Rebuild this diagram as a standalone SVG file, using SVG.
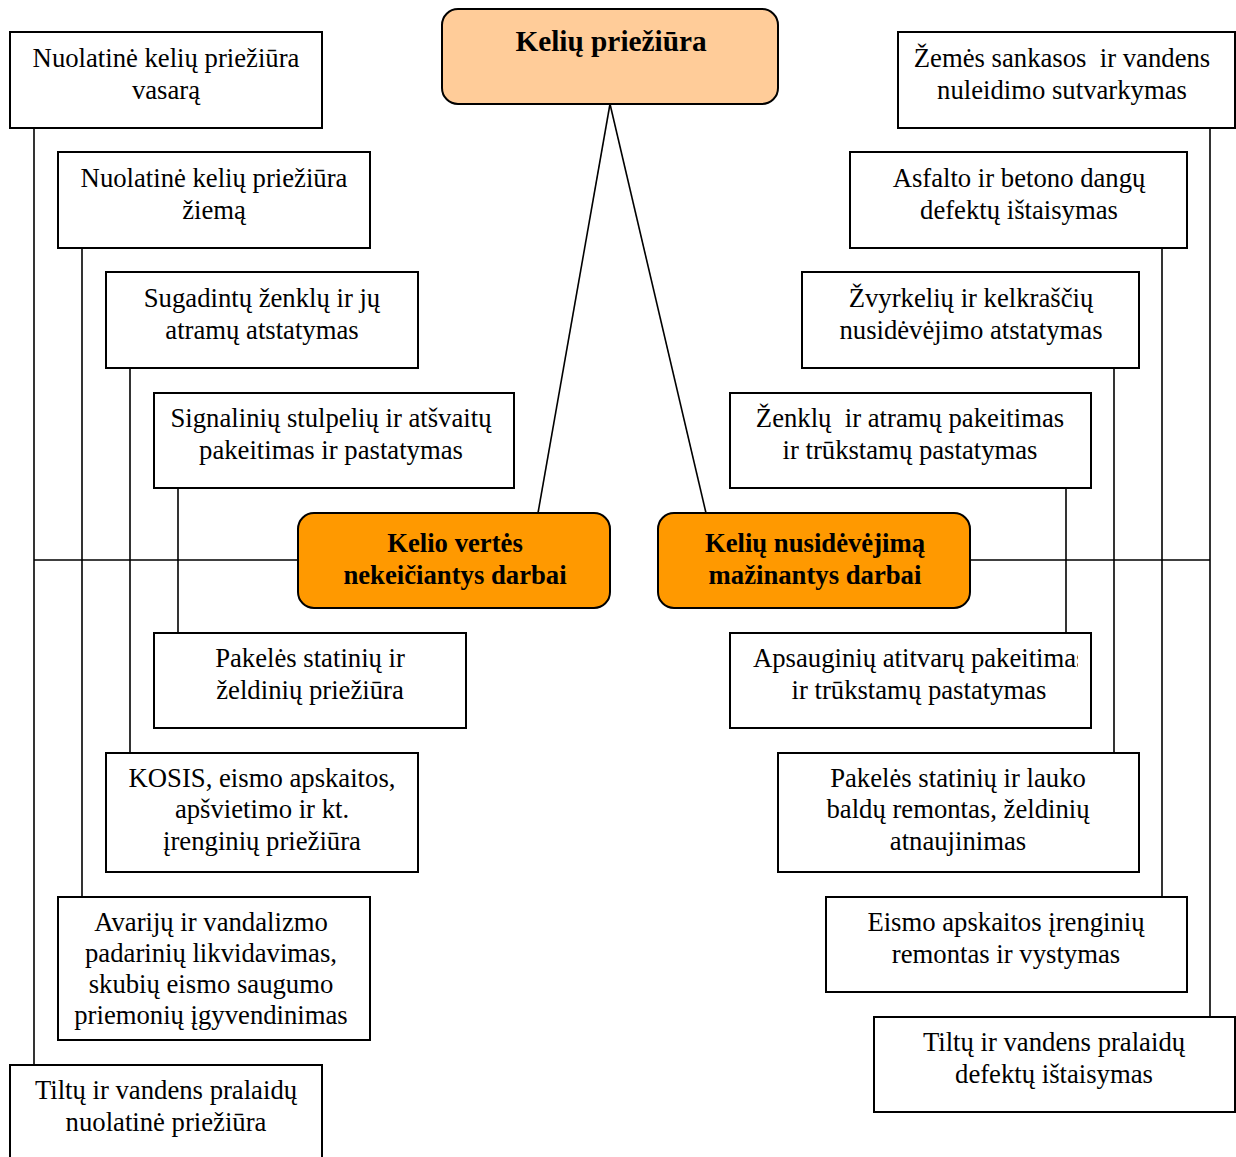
<svg xmlns="http://www.w3.org/2000/svg" width="1236" height="1157" viewBox="0 0 1236 1157">
<style>
.box{fill:#fff;stroke:#000;stroke-width:2}
.root{fill:#FFCC99;stroke:#000;stroke-width:2}
.cat{fill:#FF9900;stroke:#000;stroke-width:2}
.t{font-size:26.7px;fill:#000;text-anchor:middle}
.b{font-size:26.7px;font-weight:bold;fill:#000;text-anchor:middle}
.c{stroke:#000;stroke-width:1.6;fill:none}
</style>
<defs>
<clipPath id="clipA"><rect x="731" y="634" width="347" height="93"/></clipPath>
</defs>
<rect width="1236" height="1157" fill="#fff"/>
<g id="connectors">
<line class="c" x1="34" y1="128" x2="34" y2="1065"/>
<line class="c" x1="82" y1="248" x2="82" y2="897"/>
<line class="c" x1="130" y1="368" x2="130" y2="753"/>
<line class="c" x1="178" y1="488" x2="178" y2="633"/>
<line class="c" x1="34" y1="560" x2="298" y2="560"/>
<line class="c" x1="1210" y1="128" x2="1210" y2="1017"/>
<line class="c" x1="1162" y1="248" x2="1162" y2="897"/>
<line class="c" x1="1114" y1="368" x2="1114" y2="753"/>
<line class="c" x1="1066" y1="488" x2="1066" y2="633"/>
<line class="c" x1="970" y1="560" x2="1210" y2="560"/>
<line class="c" x1="610" y1="104" x2="538" y2="513"/>
<line class="c" x1="610" y1="104" x2="706" y2="513"/>
</g>
<g font-family="Liberation Serif, DejaVu Serif, Times New Roman, serif">
<g id="root">
<rect class="root" x="442" y="9" width="336" height="95" rx="16"/>
<text class="b" x="611" y="51" style="font-size:29.3px">Kelių priežiūra</text>
</g>
<g id="catLeft">
<rect class="cat" x="298" y="513" width="312" height="95" rx="16"/>
<text class="b" x="455" y="552">Kelio vertės</text>
<text class="b" x="455" y="584">nekeičiantys darbai</text>
</g>
<g id="catRight">
<rect class="cat" x="658" y="513" width="312" height="95" rx="16"/>
<text class="b" x="815" y="552">Kelių nusidėvėjimą</text>
<text class="b" x="815" y="584">mažinantys darbai</text>
</g>
<g id="L1">
<rect class="box" x="10" y="32" width="312" height="96"/>
<text class="t" x="166" y="67">Nuolatinė kelių priežiūra</text>
<text class="t" x="166" y="99">vasarą</text>
</g>
<g id="L2">
<rect class="box" x="58" y="152" width="312" height="96"/>
<text class="t" x="214" y="187">Nuolatinė kelių priežiūra</text>
<text class="t" x="214" y="219">žiemą</text>
</g>
<g id="L3">
<rect class="box" x="106" y="272" width="312" height="96"/>
<text class="t" x="262" y="307">Sugadintų ženklų ir jų</text>
<text class="t" x="262" y="339">atramų atstatymas</text>
</g>
<g id="L4">
<rect class="box" x="154" y="393" width="360" height="95"/>
<text class="t" x="331" y="427">Signalinių stulpelių ir atšvaitų</text>
<text class="t" x="331" y="459">pakeitimas ir pastatymas</text>
</g>
<g id="L5">
<rect class="box" x="154" y="633" width="312" height="95"/>
<text class="t" x="310" y="667">Pakelės statinių ir</text>
<text class="t" x="310" y="699">želdinių priežiūra</text>
</g>
<g id="L6">
<rect class="box" x="106" y="753" width="312" height="119"/>
<text class="t" x="262" y="787">KOSIS, eismo apskaitos,</text>
<text class="t" x="262" y="818">apšvietimo ir kt.</text>
<text class="t" x="262" y="850">įrenginių priežiūra</text>
</g>
<g id="L7">
<rect class="box" x="58" y="897" width="312" height="143"/>
<text class="t" x="211" y="931">Avarijų ir vandalizmo</text>
<text class="t" x="211" y="962">padarinių likvidavimas,</text>
<text class="t" x="211" y="993">skubių eismo saugumo</text>
<text class="t" x="211" y="1024">priemonių įgyvendinimas</text>
</g>
<g id="L8">
<rect class="box" x="10" y="1065" width="312" height="100"/>
<text class="t" x="166" y="1099">Tiltų ir vandens pralaidų</text>
<text class="t" x="166" y="1131">nuolatinė priežiūra</text>
</g>
<g id="R1">
<rect class="box" x="898" y="32" width="337" height="96"/>
<text class="t" x="1062" y="67" xml:space="preserve">Žemės sankasos  ir vandens</text>
<text class="t" x="1062" y="99">nuleidimo sutvarkymas</text>
</g>
<g id="R2">
<rect class="box" x="850" y="152" width="337" height="96"/>
<text class="t" x="1019" y="187">Asfalto ir betono dangų</text>
<text class="t" x="1019" y="219">defektų ištaisymas</text>
</g>
<g id="R3">
<rect class="box" x="802" y="272" width="337" height="96"/>
<text class="t" x="971" y="307">Žvyrkelių ir kelkraščių</text>
<text class="t" x="971" y="339">nusidėvėjimo atstatymas</text>
</g>
<g id="R4">
<rect class="box" x="730" y="393" width="361" height="95"/>
<text class="t" x="910" y="427" xml:space="preserve">Ženklų  ir atramų pakeitimas</text>
<text class="t" x="910" y="459">ir trūkstamų pastatymas</text>
</g>
<g id="R5">
<rect class="box" x="730" y="633" width="361" height="95"/>
<g clip-path="url(#clipA)">
<text class="t" x="753" y="667" style="text-anchor:start">Apsauginių atitvarų pakeitimas</text>
</g>
<text class="t" x="919" y="699">ir trūkstamų pastatymas</text>
</g>
<g id="R6">
<rect class="box" x="778" y="753" width="361" height="119"/>
<text class="t" x="958" y="787">Pakelės statinių ir lauko</text>
<text class="t" x="958" y="818">baldų remontas, želdinių</text>
<text class="t" x="958" y="850">atnaujinimas</text>
</g>
<g id="R7">
<rect class="box" x="826" y="897" width="361" height="95"/>
<text class="t" x="1006" y="931">Eismo apskaitos įrenginių</text>
<text class="t" x="1006" y="963">remontas ir vystymas</text>
</g>
<g id="R8">
<rect class="box" x="874" y="1017" width="361" height="95"/>
<text class="t" x="1054" y="1051">Tiltų ir vandens pralaidų</text>
<text class="t" x="1054" y="1083">defektų ištaisymas</text>
</g>
</g>
</svg>
